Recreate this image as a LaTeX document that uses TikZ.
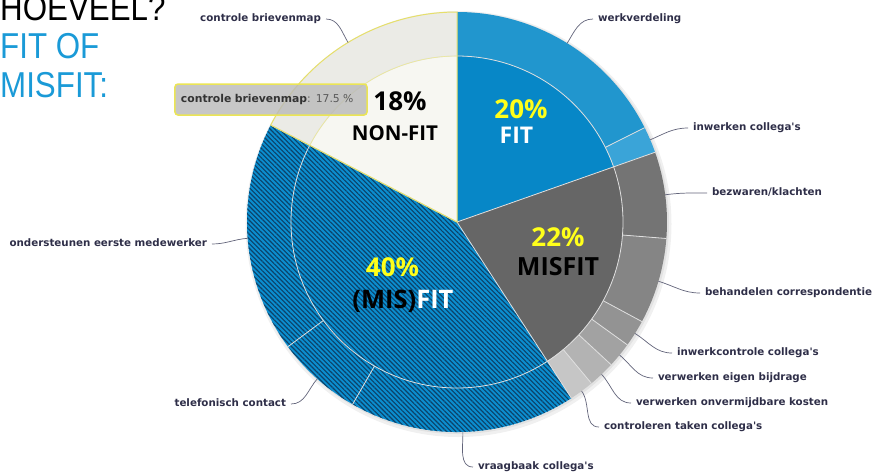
\documentclass[tikz,border=0pt]{standalone}
\usepackage{fontspec}
\setmainfont{Liberation Sans}
\newfontfamily\chartfont{DejaVu Sans}
\newfontfamily\piefont{Open Sans}
\usetikzlibrary{positioning,patterns.meta}

\definecolor{titleblue}{HTML}{1A9AD7}
\definecolor{fitblue}{HTML}{0787C7}
\definecolor{werkblue}{HTML}{2196CE}
\definecolor{inwerkblue}{HTML}{3AA4D8}
\definecolor{hatchblue}{HTML}{0B8ECF}
\definecolor{hatchnavy}{HTML}{0C4168}
\definecolor{misfitgray}{HTML}{666666}
\definecolor{grayA}{HTML}{747474}
\definecolor{grayB}{HTML}{858585}
\definecolor{grayC}{HTML}{939393}
\definecolor{grayD}{HTML}{A2A2A2}
\definecolor{grayE}{HTML}{B3B3B3}
\definecolor{grayF}{HTML}{C6C6C6}
\definecolor{nonfitwhite}{HTML}{F7F7F2}
\definecolor{brievengray}{HTML}{EBEBE6}
\definecolor{hoveryellow}{HTML}{E6DF6A}
\definecolor{labelink}{HTML}{2E2E48}
\definecolor{linkgray}{HTML}{62647A}
\definecolor{pctyellow}{HTML}{FFFF1A}

\begin{document}
\begin{tikzpicture}
  [x=1pt,y=1pt,
  title/.style={font=\fontsize{36}{40}\selectfont,inner sep=0pt,anchor=base west},
  slicelabel/.style={font=\chartfont\bfseries\fontsize{10.3}{12}\selectfont,text=labelink,
                    inner ysep=0pt,inner xsep=0pt,outer xsep=5pt,
                    text height=7.5pt,text depth=2pt},
  connector/.style={draw=linkgray,line width=0.7pt},
  pct/.style={font=\piefont\bfseries\fontsize{26}{30}\selectfont,inner sep=0pt,anchor=base},
  word/.style={inner sep=0pt,anchor=base},
  separator/.style={draw=white!75!gray,line width=0.8pt}]

  \useasboundingbox (-457,-253) rectangle (417,222);
  \def\rin{166}
  \def\rout{210}

  % title
  \node[title]                   (q1) at (-457,202) {\scalebox{0.87}[1]{HOEVEEL?}};
  \node[title,text=titleblue]    (q2) at (-457,164) {\scalebox{0.87}[1]{FIT OF}};
  \node[title,text=titleblue]    (q3) at (-457,125) {\scalebox{0.87}[1]{MISFIT:}};

  % shadow
  \fill[black,opacity=0.06] (1.5,-2) circle[radius=213];
  \fill[black,opacity=0.06] (1,-1) circle[radius=211];

  % inner pie
  \fill[fitblue]     (0,0) -- (90:\rin) arc[start angle=90,end angle=19.4,radius=\rin] -- cycle;
  \fill[misfitgray]  (0,0) -- (19.4:\rin) arc[start angle=19.4,end angle=-57,radius=\rin] -- cycle;
  \fill[nonfitwhite] (0,0) -- (152.5:\rin) arc[start angle=152.5,end angle=90,radius=\rin] -- cycle;

  % (mis)fit, inner and outer, hatched
  \fill[hatchblue] (0,0) -- (-57:\rout) arc[start angle=-57,end angle=-207.5,radius=\rout] -- cycle;
  \fill[pattern={Lines[angle=-45,distance=3.3pt,line width=1.1pt]},pattern color=hatchnavy]
    (0,0) -- (-57:\rout) arc[start angle=-57,end angle=-207.5,radius=\rout] -- cycle;

  % outer ring
  \foreach \a/\b/\col/\n in {90/26.7/werkblue/wv, 26.7/19.4/inwerkblue/ic,
      19.4/-4.5/grayA/bk, -4.5/-28.3/grayB/bc, -28.3/-35.8/grayC/ik,
      -35.8/-42.8/grayD/ve, -42.8/-50.2/grayE/vo, -50.2/-57/grayF/ct}
  {
    \fill[\col] (\a:\rin) arc[start angle=\a,end angle=\b,radius=\rin]
      -- (\b:\rout) arc[start angle=\b,end angle=\a,radius=\rout] -- cycle;
    \coordinate (\n) at ({(\a+\b)/2}:\rout);
  }
  \foreach \a/\b/\n in {-57/-119.8/vc, -119.8/-143.6/tc, -143.6/-207.5/om}
    \coordinate (\n) at ({(\a+\b)/2}:\rout);
  \fill[brievengray] (152.5:\rin) arc[start angle=152.5,end angle=90,radius=\rin]
    -- (90:\rout) arc[start angle=90,end angle=152.5,radius=\rout] -- cycle;
  \coordinate (cb) at (121.25:\rout);

  % borders
  \draw[separator] (0,0) circle[radius=\rin];
  \foreach \a in {26.7,-4.5,-28.3,-35.8,-42.8,-50.2,-119.8,-143.6}
    \draw[separator] (\a:\rin) -- (\a:\rout);
  \foreach \a in {19.4,-57,152.5}
    \draw[separator] (0,0) -- (\a:\rout);
  \draw[hoveryellow,line width=1pt] (0,0) -- (152.5:\rout)
    arc[start angle=152.5,end angle=90,radius=\rout] -- cycle;
  \draw[hoveryellow!70!white,line width=0.6pt] (152.5:\rin) arc[start angle=152.5,end angle=90,radius=\rin];

  % slice labels
  \node[slicelabel,anchor=east] (l-cb) at (-131,203)  {controle brievenmap};
  \node[slicelabel,anchor=west] (l-wv) at (136,203)   {werkverdeling};
  \node[slicelabel,anchor=west] (l-ic) at (231,94)    {inwerken collega's};
  \node[slicelabel,anchor=west] (l-bk) at (250,29)    {bezwaren/klachten};
  \node[slicelabel,anchor=west] (l-bc) at (243,-71)   {behandelen correspondentie};
  \node[slicelabel,anchor=west] (l-ik) at (215,-131)  {inwerkcontrole collega's};
  \node[slicelabel,anchor=west] (l-ve) at (196,-156)  {verwerken eigen bijdrage};
  \node[slicelabel,anchor=west] (l-vo) at (174,-181)  {verwerken onvermijdbare kosten};
  \node[slicelabel,anchor=west] (l-ct) at (142,-205)  {controleren taken collega's};
  \node[slicelabel,anchor=west] (l-vc) at (16,-245)   {vraagbaak collega's};
  \node[slicelabel,anchor=east] (l-om) at (-245,-22)  {ondersteunen eerste medewerker};
  \node[slicelabel,anchor=east] (l-tc) at (-166,-182) {telefonisch contact};

  \draw[connector] (l-cb.east) to[out=0,in=121.25] (cb);
  \draw[connector] (l-wv.west) to[out=180,in=58.35] (wv);
  \draw[connector] (l-ic.west) to[out=180,in=23] (ic);
  \draw[connector] (l-bk.west) to[out=180,in=7.5] (bk);
  \draw[connector] (l-bc.west) to[out=180,in=-16.4] (bc);
  \draw[connector] (l-ik.west) to[out=180,in=-32] (ik);
  \draw[connector] (l-ve.west) to[out=180,in=-39.3] (ve);
  \draw[connector] (l-vo.west) to[out=180,in=-46.5] (vo);
  \draw[connector] (l-ct.west) to[out=180,in=-53.6] (ct);
  \draw[connector] (l-vc.west) to[out=180,in=-88.4] (vc);
  \draw[connector] (l-om.east) to[out=0,in=-175.5] (om);
  \draw[connector] (l-tc.east) to[out=0,in=-131.7] (tc);

  % tooltip
  \node[draw=hoveryellow!80!yellow,line width=1.5pt,rounded corners=3pt,
        fill=gray!55,fill opacity=0.8,text opacity=1,
        minimum height=31pt,inner ysep=0pt,inner xsep=6pt,
        text width=180pt,align=left] (tip) at (-186,122.5)
    {\chartfont\fontsize{10.8}{12}\selectfont\textbf{\color{black!80}controle brievenmap}\color{black!65} : 17.5 \%};

  % inner texts
  \node[pct]                      (p-nf) at (-57,112)  {18\%};
  \node[word,font=\piefont\bfseries\fontsize{20.5}{25}\selectfont] (w-nf) at (-62,82) {NON-FIT};
  \node[pct,text=pctyellow]       (p-f)  at (64,104)   {20\%};
  \node[word,font=\piefont\bfseries\fontsize{23}{28}\selectfont,text=white] (w-f) at (59.5,79) {FIT};
  \node[pct,text=pctyellow]       (p-mf) at (101,-24.7) {22\%};
  \node[word,font=\piefont\bfseries\fontsize{25}{30}\selectfont] (w-mf) at (101,-53) {MISFIT};
  \node[pct,text=pctyellow]       (p-mi) at (-64.5,-54.7) {40\%};
  \node[word,font=\piefont\bfseries\fontsize{25.5}{30}\selectfont] (w-mi) at (-54,-86) {(MIS)\textcolor{white}{FIT}};

\end{tikzpicture}
\end{document}
